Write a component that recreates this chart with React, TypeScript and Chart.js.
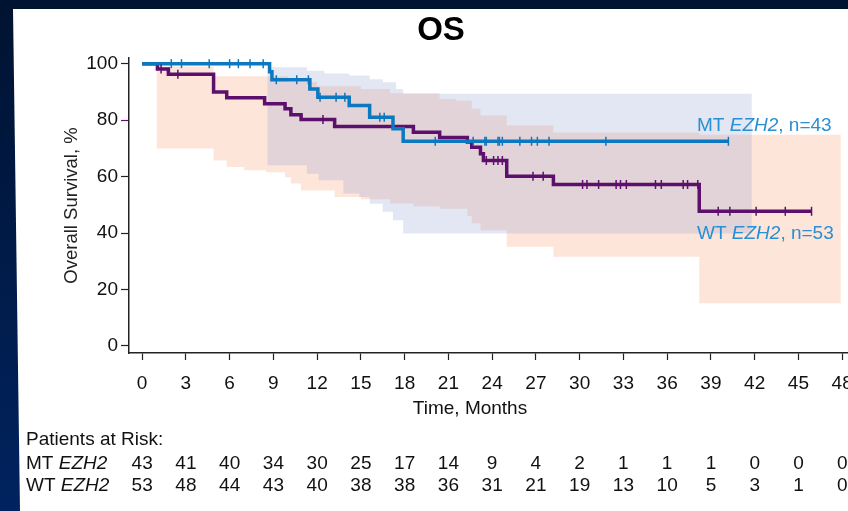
import React, { useEffect, useRef } from 'react';
import { Chart, registerables } from 'chart.js';

Chart.register(...registerables);

const FONT = '"Liberation Sans", Arial, Helvetica, sans-serif';

// ---- axis ticks ----
const xTicks = [0, 3, 6, 9, 12, 15, 18, 21, 24, 27, 30, 33, 36, 39, 42, 45, 48];
const yTicks = [0, 20, 40, 60, 80, 100];

// ---- MT EZH2 Kaplan-Meier curve (time in months, survival %) ----
const mtTimes = [0, 8.74, 8.9, 11.5, 12.05, 14.2, 15.6, 17.2, 17.9, 40.2];
const mtSurv = [100, 97.1, 94.3, 91.0, 88.1, 85.2, 81.0, 76.9, 72.5, 72.5];
const mtCensor = [2.0, 2.7, 4.6, 6.0, 6.6, 7.4, 8.3, 9.2, 10.6, 11.4, 12.2, 13.3, 13.9, 16.3, 16.6,
  20.1, 22.7, 23.5, 23.6, 24.4, 24.5, 24.7, 25.9, 26.7, 27.1, 27.9, 31.8, 40.2];

// ---- WT EZH2 Kaplan-Meier curve ----
const wtTimes = [0, 1.05, 1.8, 4.9, 5.8, 8.4, 9.8, 10.2, 10.9, 13.2, 18.6, 20.4, 22.3, 22.6, 23.2, 23.4, 25.0, 28.2, 38.2, 45.9];
const wtSurv = [100, 98.1, 96.2, 90.0, 87.9, 85.8, 84.0, 81.9, 80.2, 77.7, 75.7, 73.8, 72.2, 70.4, 68.1, 65.7, 60.1, 57.2, 47.7, 47.7];
const wtCensor = [1.3, 2.45, 12.4, 23.6, 24.1, 24.4, 24.7, 26.8, 27.5, 30.2, 30.5, 31.3, 32.5, 32.8, 33.2,
  35.2, 35.6, 37.1, 37.4, 38.1, 39.5, 40.3, 42.1, 44.1, 45.9];

// ---- confidence bands (value holds from each time until the next) ----
const mtUpperT = [8.6, 11.3, 12.5, 14.2, 15.6, 16.5, 17.4, 17.9, 41.8];
const mtUpperV = [98.7, 97.5, 96.5, 95.8, 94.5, 93.4, 91.0, 89.3, 89.3];
const mtLowerT = [8.6, 11.3, 12.1, 13.8, 14.9, 15.6, 16.5, 17.2, 17.9, 41.8];
const mtLowerV = [64.0, 61.0, 58.7, 54.0, 52.8, 50.4, 47.5, 44.5, 39.8, 39.8];

const wtUpperT = [1.0, 4.9, 10.0, 12.0, 15.0, 17.0, 20.4, 21.5, 22.6, 23.2, 25.0, 28.2, 38.2, 47.9];
const wtUpperV = [99.0, 95.5, 93.5, 92.0, 91.0, 89.5, 87.5, 86.9, 84.0, 81.6, 78.1, 75.6, 74.8, 74.8];
const wtLowerT = [1.0, 4.9, 5.8, 7.0, 8.5, 9.8, 10.2, 10.9, 13.2, 15.0, 17.0, 18.6, 20.4, 22.3, 22.6, 23.2, 25.0, 28.2, 38.2, 47.9];
const wtLowerV = [69.9, 65.7, 63.4, 62.2, 61.5, 59.8, 57.5, 55.1, 52.8, 52.0, 50.5, 49.5, 48.6, 46.0, 43.5, 41.0, 35.1, 31.6, 15.1, 15.1];

// ---- patients at risk ----
const mtAtRisk = [43, 41, 40, 34, 30, 25, 17, 14, 9, 4, 2, 1, 1, 1, 0, 0, 0];
const wtAtRisk = [53, 48, 44, 43, 40, 38, 38, 36, 31, 21, 19, 13, 10, 5, 3, 1, 0];

const MT_COLOR = '#0b78bf';
const WT_COLOR = '#5d0f6c';
const LABEL_COLOR = '#2a8fd3';

function toPoints(times: number[], vals: number[]) {
  return times.map((t, i) => ({ x: t, y: vals[i] }));
}
// explicit step polyline: value holds until the next time
function toStepPoints(times: number[], vals: number[]) {
  const pts: { x: number; y: number }[] = [];
  for (let i = 0; i < times.length; i++) {
    if (i > 0) pts.push({ x: times[i], y: vals[i - 1] });
    pts.push({ x: times[i], y: vals[i] });
  }
  return pts;
}
// closed band outline: upper edge forward, lower edge backward
function bandPolygon(ut: number[], uv: number[], lt: number[], lv: number[]) {
  return [...toStepPoints(ut, uv), ...toStepPoints(lt, lv).reverse()];
}
function valueAt(times: number[], vals: number[], t: number) {
  let v = vals[0];
  for (let i = 0; i < times.length; i++) if (times[i] <= t) v = vals[i];
  return v;
}

function drawRich(ctx: CanvasRenderingContext2D, parts: [string, boolean][], x: number, y: number, size: number) {
  let cx = x;
  for (const [txt, italic] of parts) {
    ctx.font = `${italic ? 'italic ' : ''}${size}px ${FONT}`;
    ctx.fillText(txt, cx, y);
    cx += ctx.measureText(txt).width;
  }
}

const textPlugin = {
  id: 'kmTexts',
  afterDraw(chart: any) {
    const ctx: CanvasRenderingContext2D = chart.ctx;
    const xs = chart.scales.x;
    ctx.save();
    ctx.textBaseline = 'middle';
    ctx.fillStyle = '#000';
    ctx.textAlign = 'center';
    ctx.font = `bold 33px ${FONT}`;
    ctx.fillText('OS', 441, 31);
    ctx.fillStyle = '#111';
    ctx.font = `19px ${FONT}`;
    ctx.fillText('Time, Months', 470, 409);
    ctx.textAlign = 'left';
    ctx.fillText('Patients at Risk:', 26, 440);
    drawRich(ctx, [['MT ', false], ['EZH2', true]], 26, 464, 19);
    drawRich(ctx, [['WT ', false], ['EZH2', true]], 26, 486, 19);
    ctx.textAlign = 'center';
    ctx.font = `19px ${FONT}`;
    xTicks.forEach((t, i) => {
      const px = xs.getPixelForValue(t);
      ctx.fillText(String(mtAtRisk[i]), px, 464);
      ctx.fillText(String(wtAtRisk[i]), px, 486);
    });
    ctx.textAlign = 'left';
    ctx.fillStyle = LABEL_COLOR;
    drawRich(ctx, [['MT ', false], ['EZH2', true], [', n=43', false]], 697, 126, 19);
    drawRich(ctx, [['WT ', false], ['EZH2', true], [', n=53', false]], 697, 234, 19);
    ctx.restore();
  },
};

export default function App() {
  const ref = useRef<HTMLCanvasElement | null>(null);

  useEffect(() => {
    if (!ref.current) return;
    Chart.defaults.font.family = FONT;
    const censorCommon = {
      showLine: false,
      pointStyle: 'line',
      rotation: 90,
      pointRadius: 4.5,
      borderWidth: 1.5,
      order: 0,
    };
    const chart = new Chart(ref.current, {
      type: 'line',
      data: {
        datasets: [
          {
            ...censorCommon,
            label: 'MT censored',
            data: mtCensor.map((t) => ({ x: t, y: valueAt(mtTimes, mtSurv, t) })),
            borderColor: MT_COLOR,
            backgroundColor: MT_COLOR,
          },
          {
            ...censorCommon,
            label: 'WT censored',
            data: wtCensor.map((t) => ({ x: t, y: valueAt(wtTimes, wtSurv, t) })),
            borderColor: WT_COLOR,
            backgroundColor: WT_COLOR,
          },
          {
            label: 'MT EZH2',
            data: toPoints(mtTimes, mtSurv),
            stepped: 'before',
            borderColor: MT_COLOR,
            borderWidth: 3.5,
            pointRadius: 0,
            fill: false,
            order: 1,
          },
          {
            label: 'WT EZH2',
            data: toPoints(wtTimes, wtSurv),
            stepped: 'before',
            borderColor: WT_COLOR,
            borderWidth: 3.5,
            pointRadius: 0,
            fill: false,
            order: 1,
          },
          {
            label: 'MT 95% CI',
            data: bandPolygon(mtUpperT, mtUpperV, mtLowerT, mtLowerV),
            borderWidth: 0,
            pointRadius: 0,
            fill: 'shape',
            backgroundColor: 'rgba(143,159,207,0.25)',
            order: 2,
          },
          {
            label: 'WT 95% CI',
            data: bandPolygon(wtUpperT, wtUpperV, wtLowerT, wtLowerV),
            borderWidth: 0,
            pointRadius: 0,
            fill: 'shape',
            backgroundColor: 'rgba(247,151,107,0.25)',
            order: 3,
          },
        ] as any,
      },
      options: {
        animation: false,
        responsive: false,
        events: [],
        layout: { padding: { top: 58, left: 61, right: 0, bottom: 0 }, autoPadding: false } as any,
        plugins: {
          legend: { display: false },
          tooltip: { enabled: false },
          title: { display: false },
        },
        scales: {
          x: {
            type: 'linear',
            min: -0.9,
            max: 48.4,
            afterFit: (s: any) => { s.height = 158; s.paddingLeft = 0; s.paddingRight = 0; },
            afterBuildTicks: (s: any) => { s.ticks = xTicks.map((v) => ({ value: v })); },
            grid: { drawOnChartArea: false, drawTicks: true, tickLength: 7, tickColor: '#222', tickWidth: 1.2 },
            border: { display: true, color: '#222', width: 1.5 },
            ticks: { autoSkip: false, maxRotation: 0, padding: 12, color: '#111', font: { size: 19 } },
          },
          y: {
            type: 'linear',
            min: -2.5,
            max: 102,
            afterFit: (s: any) => { s.width = 68; s.paddingTop = 0; s.paddingBottom = 0; },
            afterBuildTicks: (s: any) => { s.ticks = yTicks.map((v) => ({ value: v })); },
            grid: {
              drawOnChartArea: false,
              drawTicks: true,
              tickLength: 8,
              tickWidth: 1.2,
              tickColor: (c: any) => (c.tick && c.tick.value === 80 ? WT_COLOR : '#222'),
            },
            border: { display: true, color: '#222', width: 1.5 },
            ticks: { padding: 3, color: '#111', font: { size: 19 } },
            title: { display: true, text: 'Overall Survival, %', color: '#222', font: { size: 18.5 }, padding: 0 },
          },
        },
      } as any,
      plugins: [textPlugin],
    });
    return () => chart.destroy();
  }, []);

  return (
    <div style={{ position: 'fixed', inset: 0, background: 'linear-gradient(to bottom, #001331, #00235f)', overflow: 'hidden' }}>
      <div
        style={{
          position: 'absolute',
          left: 0,
          top: 0,
          width: 848,
          height: 511,
          background: '#fff',
          clipPath: 'polygon(13px 9px, 848px 9px, 848px 511px, 20px 511px)',
        }}
      />
      <canvas
        ref={ref}
        width={848}
        height={511}
        style={{ position: 'absolute', left: 0, top: 0, width: 848, height: 511 }}
      />
    </div>
  );
}
